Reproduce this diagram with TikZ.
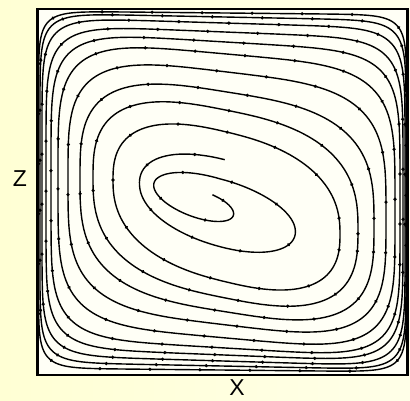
\documentclass[tikz,border=0pt]{standalone}
\usepackage{fontspec}
\setmainfont{Liberation Sans}
\usetikzlibrary{decorations.markings}
\definecolor{bgleft}{RGB}{255,255,212}
\definecolor{bgright}{RGB}{255,255,232}
\definecolor{cavity}{RGB}{255,255,246}
\tikzset{
  streamline/.style={line width=1.4pt, line join=round, postaction={decorate},
    decoration={markings, mark=between positions 0.02 and 1 step 50pt with {\fill (0,0) circle (1.8pt);}}},
  wall/.style={line width=2.2pt},
  axislabel/.style={font=\fontsize{23}{23}\selectfont, inner sep=0pt}
}
\begin{document}
\begin{tikzpicture}[x=1pt, y=-1pt,
  declare function={spw(\u,\e)=ifthenelse(\u<0,-1,1)*pow(abs(\u),\e);
    hookw(\t)=min((\t+60)/260,1);
    hookf(\t)=0.12+0.88*(3*hookw(\t)^2-2*hookw(\t)^3);
    sw(\t)=(\t-270)/360;}]
    % Background and cavity
    \useasboundingbox (0,0) rectangle (410,401);
    \fill[left color=bgleft, right color=bgright] (0,0) rectangle (410,401);
    \fill[cavity] (37.5,9) rectangle (407.5,375);

    % Inner spiral: hook, then one turn outwards
    \draw[streamline] plot[domain=-60:270, samples=90, variable=\t]
        ({220.5 - 13.75*(1-hookf(\t)) + 67.5*hookf(\t)*cos(\t)},
         {207 - 12*(1-hookf(\t)) + hookf(\t)*(28*sin(\t) + 20.25*cos(\t))})
      -- plot[domain=270.5:629.5, samples=100, variable=\t]
        ({220.5 + 5.5*sw(\t) + (67.5+23.5*sw(\t))*spw(cos(\t),2/(2+0.2*sw(\t)))},
         {207 + 3*sw(\t) + (28+22*sw(\t))*spw(sin(\t),2/(2+0.2*sw(\t)))
          + (0.3-0.02*sw(\t))*(67.5+23.5*sw(\t))*spw(cos(\t),2/(2+0.2*sw(\t)))});

    % Closed streamlines, squarer towards the walls
    \foreach \cx/\cy/\a/\b/\s/\p in {
        226.5/207/113.5/75/.24/2.5,
        225.5/204/132.5/94/.20/2.8,
        227/202/147/110/.16/3.2,
        227/198.5/159/126.5/.12/3.8,
        226.5/196/168.5/142/.09/4.5,
        225.5/195/174.5/153/.06/5.5,
        224.5/193.5/178.5/161.5/.04/6.5,
        223.5/192/181.5/169/.03/8,
        223/191.5/183/174.5/.02/10,
        222.5/191.5/184/178.5/.01/12}
      \draw[streamline] plot[domain=1:361, samples=145, variable=\t]
        ({\cx + \a*spw(cos(\t),2/\p)},
         {\cy + \b*spw(sin(\t),2/\p) + \s*\a*spw(cos(\t),2/\p)}) -- cycle;

    % Cavity walls
    \draw[wall] (37.5,9) rectangle (407.5,375);

    % Axis labels
    \node[axislabel] (zlabel) at (20,179) {Z};
    \node[axislabel] (xlabel) at (237,388) {X};
\end{tikzpicture}
\end{document}
